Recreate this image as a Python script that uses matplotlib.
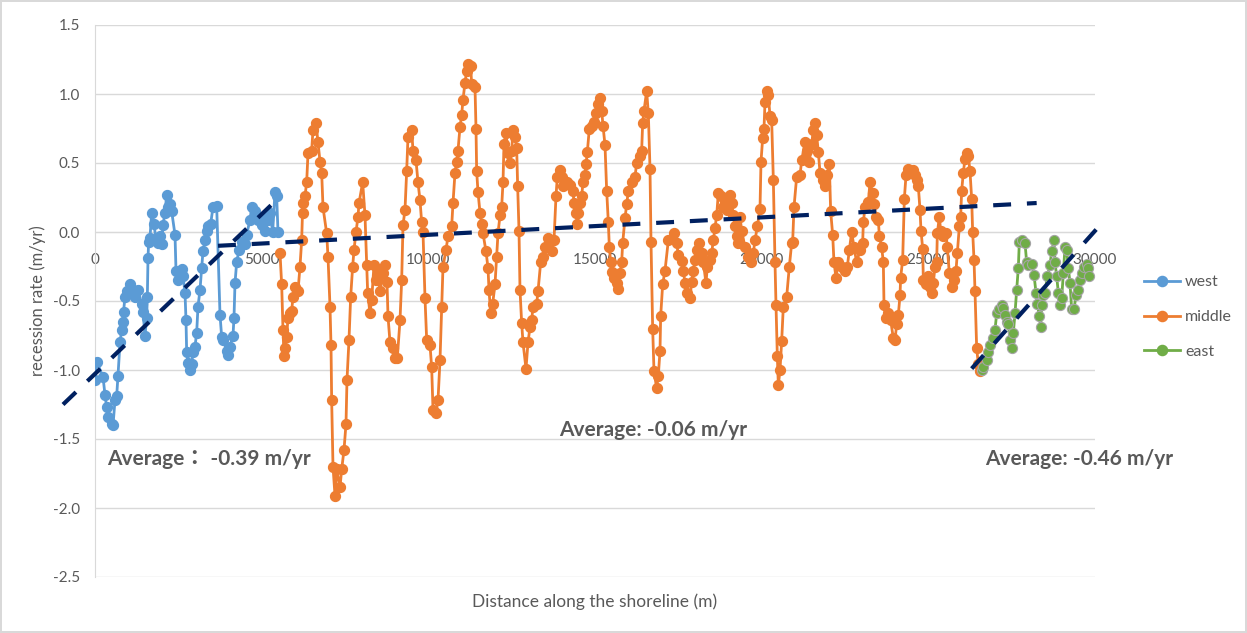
import matplotlib
matplotlib.use('Agg')
import matplotlib.pyplot as plt
from matplotlib.lines import Line2D
import numpy as np

plt.rcParams['font.family'] = ['Lato', 'Noto Sans CJK TC', 'DejaVu Sans']
plt.rcParams['axes.unicode_minus'] = False

# distance along the shoreline (m) and recession rate (m/yr) per section
west_x = [0, 50, 240, 300, 350, 390, 500, 540, 600, 650, 690, 750, 800, 830, 855, 900, 950,
          1050, 1140, 1200, 1290, 1400, 1440, 1500, 1550, 1570, 1590, 1610, 1650, 1700, 1770,
          1830, 1890, 1950, 2000, 2040, 2100, 2150, 2190, 2250, 2300, 2400, 2430, 2490, 2600,
          2640, 2700, 2730, 2750, 2790, 2850, 2900, 2940, 3000, 3050, 3090, 3150, 3200, 3240,
          3300, 3350, 3390, 3470, 3540, 3650, 3750, 3800, 3840, 3950, 3990, 4050, 4140, 4170,
          4200, 4250, 4320, 4400, 4500, 4550, 4650, 4700, 4800, 4890, 5000, 5040, 5100, 5190,
          5250, 5330, 5400, 5450, 5490]
west_y = [-1.07, -0.94, -1.05, -1.18, -1.27, -1.34, -1.39, -1.40, -1.22, -1.19, -1.04, -0.80,
          -0.71, -0.65, -0.58, -0.47, -0.43, -0.38, -0.42, -0.47, -0.42, -0.52, -0.58, -0.75,
          -0.62, -0.47, -0.19, -0.07, -0.04, 0.14, 0.06, -0.06, -0.08, -0.03, -0.09, 0.05, 0.14,
          0.27, 0.18, 0.20, 0.15, -0.02, -0.28, -0.35, -0.27, -0.32, -0.44, -0.64, -0.87, -0.95,
          -1.00, -0.96, -0.87, -0.83, -0.73, -0.54, -0.42, -0.26, -0.14, -0.06, 0.01, 0.04, 0.06,
          0.18, 0.19, -0.60, -0.76, -0.78, -0.86, -0.89, -0.83, -0.75, -0.62, -0.37, -0.22,
          -0.13, -0.07, -0.09, -0.02, 0.09, 0.18, 0.15, 0.09, 0.05, 0.10, 0.01, 0.09, 0.14, 0.00,
          0.29, 0.26, 0.00]

middle_x = [5550, 5600, 5640, 5670, 5700, 5750, 5790, 5850, 5900, 5940, 6000, 6090, 6150, 6200,
            6225, 6240, 6300, 6350, 6390, 6500, 6540, 6630, 6690, 6750, 6800, 6840, 6950, 6990,
            7050, 7080, 7100, 7140, 7200, 7250, 7350, 7400, 7470, 7530, 7560, 7620, 7670, 7730,
            7770, 7830, 7890, 7920, 8030, 8100, 8150, 8180, 8250, 8300, 8370, 8430, 8490, 8550,
            8630, 8700, 8760, 8790, 8850, 8930, 9000, 9070, 9150, 9200, 9240, 9300, 9350, 9390,
            9500, 9540, 9630, 9690, 9750, 9800, 9840, 9900, 9950, 10050, 10100, 10140, 10230,
            10290, 10350, 10400, 10440, 10530, 10590, 10700, 10740, 10800, 10850, 10890, 10950,
            11000, 11040, 11100, 11150, 11190, 11270, 11300, 11400, 11430, 11450, 11490, 11550,
            11600, 11640, 11730, 11790, 11820, 11870, 11930, 12000, 12050, 12090, 12150, 12200,
            12240, 12270, 12330, 12390, 12450, 12500, 12540, 12600, 12650, 12680, 12720, 12750,
            12800, 12840, 12930, 12990, 13050, 13100, 13140, 13250, 13290, 13370, 13430, 13500,
            13590, 13700, 13770, 13830, 13870, 13950, 14000, 14040, 14150, 14250, 14340, 14370,
            14430, 14470, 14500, 14550, 14600, 14640, 14700, 14730, 14770, 14830, 14900, 14970,
            15030, 15100, 15150, 15200, 15240, 15300, 15350, 15400, 15430, 15470, 15500, 15570,
            15650, 15700, 15750, 15800, 15830, 15900, 15950, 16000, 16100, 16200, 16250, 16350,
            16400, 16430, 16470, 16550, 16600, 16650, 16680, 16730, 16770, 16850, 16900, 16950,
            16970, 17030, 17100, 17200, 17370, 17450, 17500, 17600, 17650, 17700, 17770, 17850,
            17900, 17950, 18000, 18050, 18130, 18200, 18250, 18330, 18370, 18450, 18500, 18550,
            18600, 18650, 18700, 18770, 18830, 18900, 18970, 19050, 19100, 19150, 19200, 19250,
            19300, 19350, 19400, 19500, 19600, 19670, 19750, 19800, 19870, 19950, 19980, 20030,
            20070, 20100, 20150, 20200, 20250, 20300, 20350, 20400, 20430, 20470, 20500, 20550,
            20600, 20650, 20750, 20830, 20900, 20930, 20970, 21050, 21150, 21200, 21300, 21350,
            21430, 21500, 21550, 21600, 21650, 21700, 21750, 21830, 21900, 21950, 22030, 22070,
            22130, 22170, 22230, 22300, 22400, 22500, 22570, 22630, 22700, 22770, 22850, 22950,
            23030, 23050, 23100, 23200, 23250, 23330, 23370, 23430, 23500, 23530, 23600, 23650,
            23670, 23730, 23800, 23870, 23950, 24000, 24050, 24100, 24150, 24170, 24230, 24280,
            24330, 24400, 24470, 24550, 24600, 24650, 24700, 24750, 24780, 24830, 24850, 24930,
            25000, 25050, 25100, 25150, 25200, 25250, 25270, 25330, 25370, 25450, 25530, 25570,
            25630, 25700, 25770, 25830, 25870, 25930, 25970, 26000, 26050, 26100, 26150, 26200,
            26250, 26300, 26330, 26370, 26400, 26450, 26500, 26550]
middle_y = [-0.15, -0.38, -0.71, -0.90, -0.84, -0.76, -0.62, -0.59, -0.57, -0.47, -0.40, -0.43,
            -0.25, -0.06, 0.14, 0.21, 0.26, 0.36, 0.57, 0.59, 0.74, 0.79, 0.65, 0.51, 0.43, 0.18,
            -0.01, -0.18, -0.54, -0.82, -1.22, -1.70, -1.91, -1.72, -1.85, -1.72, -1.58, -1.39,
            -1.07, -0.78, -0.47, -0.25, -0.13, 0.00, 0.11, 0.21, 0.36, 0.12, -0.24, -0.44, -0.59,
            -0.49, -0.24, -0.35, -0.28, -0.43, -0.30, -0.24, -0.36, -0.61, -0.80, -0.84, -0.91,
            -0.91, -0.64, -0.35, 0.05, 0.16, 0.44, 0.69, 0.74, 0.59, 0.52, 0.36, 0.23, 0.07, 0.00,
            -0.48, -0.78, -0.82, -0.98, -1.29, -1.31, -1.22, -0.93, -0.54, -0.25, -0.13, -0.03,
            0.04, 0.21, 0.43, 0.51, 0.59, 0.76, 0.85, 0.96, 1.08, 1.17, 1.22, 1.20, 1.07, 1.05,
            0.75, 0.44, 0.29, 0.14, 0.06, -0.01, -0.14, -0.26, -0.42, -0.59, -0.52, -0.38, -0.18,
            -0.01, 0.12, 0.18, 0.36, 0.64, 0.72, 0.57, 0.50, 0.59, 0.74, 0.69, 0.61, 0.33, 0.01,
            -0.42, -0.66, -0.80, -0.99, -0.80, -0.69, -0.64, -0.54, -0.52, -0.43, -0.22, -0.18,
            -0.11, -0.04, -0.14, -0.06, 0.26, 0.40, 0.45, 0.40, 0.33, 0.36, 0.34, 0.30, 0.21, 0.14,
            0.06, 0.14, 0.21, 0.26, 0.36, 0.41, 0.49, 0.58, 0.75, 0.77, 0.80, 0.86, 0.93, 0.97,
            0.88, 0.77, 0.63, 0.30, 0.07, -0.11, -0.22, -0.29, -0.33, -0.37, -0.41, -0.30, -0.22,
            -0.08, 0.10, 0.20, 0.30, 0.36, 0.40, 0.50, 0.55, 0.59, 0.79, 0.88, 1.02, 0.86, 0.46,
            -0.07, -0.70, -1.01, -1.13, -1.04, -0.86, -0.61, -0.38, -0.28, -0.06, -0.01, -0.08,
            -0.17, -0.21, -0.28, -0.37, -0.44, -0.48, -0.36, -0.28, -0.20, -0.13, -0.08, -0.15,
            -0.22, -0.37, -0.25, -0.20, -0.15, -0.06, 0.03, 0.12, 0.28, 0.26, 0.18, 0.22, 0.16,
            0.27, 0.21, 0.12, 0.04, -0.03, -0.08, 0.11, 0.01, -0.11, -0.18, -0.22, -0.15, -0.06,
            0.04, 0.17, 0.51, 0.68, 0.75, 0.94, 1.02, 0.99, 0.84, 0.81, 0.38, -0.22, -0.53, -0.90,
            -1.11, -1.00, -0.79, -0.54, -0.47, -0.25, -0.08, -0.07, 0.18, 0.40, 0.41, 0.52, 0.65,
            0.59, 0.51, 0.64, 0.74, 0.79, 0.70, 0.58, 0.43, 0.38, 0.33, 0.41, 0.49, 0.15, -0.02,
            -0.22, -0.33, -0.22, -0.25, -0.28, -0.25, -0.13, 0.00, -0.11, -0.22, -0.13, -0.08,
            0.07, 0.18, 0.22, 0.36, 0.28, 0.20, 0.11, 0.09, -0.03, -0.11, -0.22, -0.53, -0.62,
            -0.59, -0.64, -0.77, -0.78, -0.67, -0.60, -0.46, -0.33, -0.20, 0.24, 0.41, 0.46, 0.43,
            0.45, 0.41, 0.38, 0.33, 0.16, 0.01, -0.12, -0.35, -0.38, -0.32, -0.40, -0.44, -0.37,
            -0.25, -0.22, -0.01, 0.11, 0.01, -0.03, -0.01, -0.11, -0.30, -0.40, -0.35, -0.28,
            -0.15, 0.04, 0.11, 0.30, 0.43, 0.53, 0.57, 0.55, 0.44, 0.24, 0.00, -0.20, -0.43, -0.84,
            -0.96, -1.01]

east_x = [26600, 26650, 26750, 26800, 26850, 26950, 27000, 27050, 27130, 27200, 27250, 27300,
          27350, 27400, 27450, 27500, 27550, 27600, 27650, 27700, 27730, 27800, 27900, 27950,
          28000, 28100, 28170, 28230, 28270, 28330, 28370, 28400, 28450, 28500, 28570, 28650,
          28700, 28770, 28800, 28850, 28900, 28950, 29000, 29050, 29100, 29150, 29200, 29250,
          29300, 29370, 29430, 29500, 29550, 29600, 29670, 29750, 29800, 29830]
east_y = [-1.00, -0.98, -0.93, -0.87, -0.82, -0.77, -0.71, -0.59, -0.56, -0.53, -0.55, -0.60,
          -0.65, -0.67, -0.78, -0.84, -0.73, -0.59, -0.42, -0.26, -0.07, -0.06, -0.08, -0.22,
          -0.24, -0.23, -0.31, -0.44, -0.52, -0.61, -0.69, -0.53, -0.46, -0.44, -0.32, -0.24,
          -0.14, -0.06, -0.22, -0.32, -0.44, -0.53, -0.48, -0.30, -0.11, -0.13, -0.26, -0.37,
          -0.56, -0.56, -0.46, -0.42, -0.35, -0.30, -0.25, -0.23, -0.26, -0.32]

# linear trends: (start distance, end distance, rate at start, rate at end)
trend_west = (-960, 5610, -1.25, 0.27)
trend_middle = (3690, 28250, -0.10, 0.21)
trend_east = (26300, 30080, -0.99, 0.03)

labels = ['west', 'middle', 'east']
colors = ['#5B9BD5', '#ED7D31', '#70AD47']
avg_text = ['Average\uff1a -0.39 m/yr', 'Average: -0.06 m/yr', 'Average: -0.46 m/yr']

fig = plt.figure(figsize=(12.47, 6.33), dpi=100)
fig.patch.set_edgecolor('#D9D9D9')
fig.patch.set_linewidth(1.5)
ax = fig.add_axes([95 / 1247, 1 - 577 / 633, 1000 / 1247, 552 / 633])

series = [(west_x, west_y), (middle_x, middle_y), (east_x, east_y)]
for (sx, sy), c, lab in zip(series, colors, labels):
    mec = '#A5A5A5' if lab == 'east' else c
    ax.plot(sx, sy, color=c, lw=2, marker='o', ms=7.3, mfc=c, mec=mec, mew=0.8,
            label=lab, zorder=3)

for x0, x1, y0, y1 in [trend_west, trend_middle, trend_east]:
    ax.plot([x0, x1], [y0, y1], color='#002060', lw=3, dashes=(4.3, 3.8),
            zorder=4, clip_on=False, dash_capstyle='butt')

ax.set_xlim(0, 30000)
ax.set_ylim(-2.5, 1.5)
ax.set_yticks(np.arange(-2.5, 1.51, 0.5))
ax.set_yticklabels([f'{v:.1f}' for v in np.arange(-2.5, 1.51, 0.5)])
ax.set_xticks(np.arange(0, 30001, 5000))
ax.grid(axis='y', color='#D9D9D9', lw=1)
ax.set_axisbelow(True)

for s in ['top', 'right']:
    ax.spines[s].set_visible(False)
ax.spines['left'].set_color('#D9D9D9')
ax.spines['bottom'].set_position(('data', 0))
ax.spines['bottom'].set_color('#D9D9D9')
ax.tick_params(axis='both', length=0, colors='#595959', labelsize=11)
ax.tick_params(axis='x', pad=15)
ax.tick_params(axis='y', pad=11)

ax.set_ylabel('recession rate (m/yr)', fontsize=12, color='#595959')
ax.yaxis.set_label_coords(-0.049, 0.5)
ax.set_xlabel('Distance along the shoreline (m)', fontsize=12.5, color='#595959')
ax.xaxis.set_label_coords(0.5, -0.03)

# section averages
ax.text(360, -1.645, avg_text[0], fontsize=15, fontweight='bold', color='#595959',
        ha='left', va='center')
ax.text(16740, -1.435, avg_text[1], fontsize=15, fontweight='bold', color='#595959',
        ha='center', va='center')
ax.text(26700, -1.645, avg_text[2], fontsize=15, fontweight='bold', color='#595959',
        ha='left', va='center', clip_on=False)

handles = [Line2D([], [], color=c, lw=2, marker='o', ms=7.3, mfc=c, mec=c) for c in colors]
fig.legend(handles, labels, loc='center left', bbox_to_anchor=(1130 / 1247, 1 - 317 / 633),
           frameon=False, fontsize=11.5, labelcolor='#595959', handlelength=2.25,
           labelspacing=1.3, handletextpad=0.3)

fig.savefig('out.png', dpi=100)
